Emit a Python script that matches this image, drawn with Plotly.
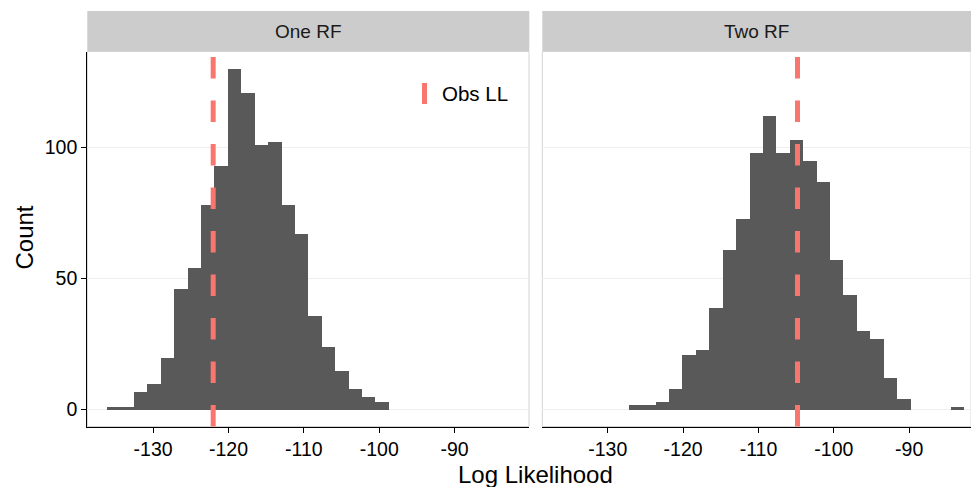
import plotly.graph_objects as go

# ---- data ----
panels = ["One RF", "Two RF"]
bin_start = -136.06
bin_width = 1.78
counts_one = [1, 1, 7, 10, 20, 46, 54, 78, 93, 130, 121, 101, 102, 78, 67, 36, 24, 15, 8, 5, 3,
              0, 0, 0, 0, 0, 0, 0, 0, 0]
counts_two = [0, 0, 0, 0, 0, 2, 2, 3, 8, 21, 23, 39, 61, 73, 98, 112, 98, 103, 95, 87, 57,
              44, 30, 27, 12, 4, 0, 0, 0, 1]
obs_ll = [-122.03, -104.82]
x_ticks = [-130, -120, -110, -100, -90]
y_ticks = [0, 50, 100]
legend_label = "Obs LL"
x_title = "Log Likelihood"
y_title = "Count"

W, H = 971, 487
def px(x):
    return x / W
def py(y):
    return 1 - y / H

BAR = "#595959"
RED = "#F8766D"
FONT = "Liberation Sans, Arial, sans-serif"

centers = [bin_start + bin_width * (i + 0.5) for i in range(len(counts_one))]

fig = go.Figure()
for i, counts in enumerate([counts_one, counts_two]):
    fig.add_trace(go.Bar(
        x=centers, y=counts, width=bin_width,
        marker=dict(color=BAR, line=dict(width=0)),
        xaxis="x" if i == 0 else "x2", yaxis="y" if i == 0 else "y2",
        showlegend=False, hoverinfo="x+y",
    ))

ydom = [py(426.5), py(51.5)]
xdom1 = [px(87.3), px(529.0)]
xdom2 = [px(542.3), 1.0]
xr1 = [-138.73, -80.13]
xr2 = [-138.68, -81.80]
yr = [-6.5, 136.5]

xcommon = dict(tickvals=x_ticks, ticktext=[str(v) for v in x_ticks], ticks="outside", ticklen=5,
               tickwidth=1, tickcolor="black", showline=True, linecolor="black", linewidth=1.2,
               showgrid=False, zeroline=False,
               tickfont=dict(family=FONT, size=19.5, color="black"))
ycommon = dict(range=yr, domain=ydom, tickvals=y_ticks, showgrid=True, gridcolor="#EEEEEE",
               gridwidth=1, zeroline=False)

fig.update_layout(
    width=W, height=H, margin=dict(l=0, r=0, t=0, b=0),
    paper_bgcolor="white", plot_bgcolor="white", bargap=0, showlegend=False,
    xaxis=dict(domain=xdom1, range=xr1, anchor="y", **xcommon),
    xaxis2=dict(domain=xdom2, range=xr2, anchor="y2", **xcommon),
    yaxis=dict(anchor="x", ticks="outside", ticklen=5, tickwidth=1, tickcolor="black",
               showline=True, linecolor="black", linewidth=1.2,
               tickfont=dict(family=FONT, size=19.5, color="black"), **ycommon),
    yaxis2=dict(anchor="x2", showticklabels=False, ticks="", showline=False, **ycommon),
)

shapes = []
# panel borders (light grey)
for x0, x1 in [(87.3, 529.0), (542.3, 971)]:
    shapes.append(dict(type="rect", xref="paper", yref="paper", x0=px(x0), x1=px(x1),
                       y0=ydom[0], y1=ydom[1], line=dict(color="#D4D4D4", width=1), layer="below"))
# strips
strip_text_x = []
for x0, x1 in [(87.3, 529.3), (542.3, 971)]:
    shapes.append(dict(type="rect", xref="paper", yref="paper", x0=px(x0), x1=px(x1),
                       y0=py(51), y1=py(11), line=dict(width=0), fillcolor="#CCCCCC"))
    strip_text_x.append(px((x0 + x1) / 2))
# observed LL lines
for i, v in enumerate(obs_ll):
    shapes.append(dict(type="line", xref="x" if i == 0 else "x2",
                       yref="y domain" if i == 0 else "y2 domain",
                       x0=v, x1=v, y0=0, y1=1,
                       line=dict(color=RED, width=5, dash="21.5px,22px")))
# legend key
shapes.append(dict(type="rect", xref="paper", yref="paper", x0=px(422), x1=px(427),
                   y0=py(104), y1=py(83), line=dict(width=0), fillcolor=RED))
fig.update_layout(shapes=shapes)

ann = []
for name, xc in zip(panels, strip_text_x):
    ann.append(dict(text=name, x=xc, y=py(31), xref="paper", yref="paper", showarrow=False,
                    xanchor="center", yanchor="middle",
                    font=dict(family=FONT, size=19, color="#1A1A1A")))
ann.append(dict(text=legend_label, x=px(440), y=py(93.5), xref="paper", yref="paper",
                showarrow=False, xanchor="left", yanchor="middle",
                font=dict(family=FONT, size=20.5, color="black")))
ann.append(dict(text=x_title, x=px(535), y=py(474), xref="paper", yref="paper", showarrow=False,
                xanchor="center", yanchor="middle", font=dict(family=FONT, size=24, color="black")))
ann.append(dict(text=y_title, x=px(23.5), y=py(238), xref="paper", yref="paper", showarrow=False,
                textangle=-90, xanchor="center", yanchor="middle",
                font=dict(family=FONT, size=24, color="black")))
fig.update_layout(annotations=ann)

fig.write_html("out.html")
